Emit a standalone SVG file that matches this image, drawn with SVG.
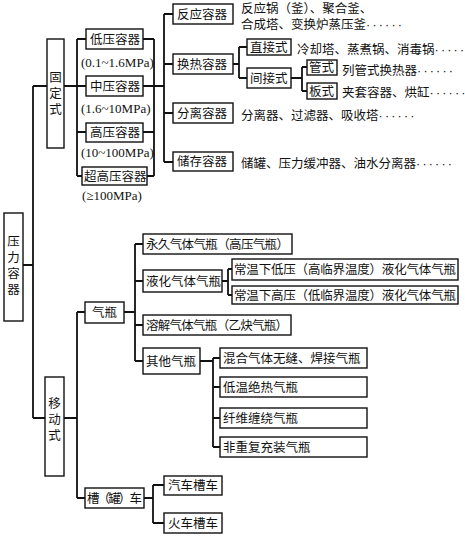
<svg xmlns="http://www.w3.org/2000/svg" width="465" height="539" viewBox="0 0 465 539">
<style>
.b{fill:#fff;stroke:#111;stroke-width:1.4}
.t{font-family:"Noto Sans CJK SC","Noto Sans CJK TC",sans-serif;font-size:12.5px;fill:#111}
.v{font-family:"Noto Sans CJK SC",sans-serif;font-size:12.5px;fill:#111;text-anchor:middle}
.m{font-family:"Liberation Serif",serif;font-size:13px;fill:#111}
.d{font-family:"Liberation Sans",sans-serif;letter-spacing:2.2px}
.c{fill:none;stroke:#111;stroke-width:1.8}
</style>
<rect width="465" height="539" fill="#fff"/>
<g id="connectors" class="c">
<path d="M23,265H33M33,86V418M33,86H47M33,418H47"/>
<path d="M64,86H77M77,39V176M77,39H86M77,86H86M77,132H86M77,176H82"/>
<path d="M143,39H154M143,86H154M143,132H154M147,176H154M154,39V176M154,86H164"/>
<path d="M164,14V162M164,14H173M164,64H173M164,113H173M164,162H173"/>
<path d="M233,64H239M239,47V78M239,47H247M239,78H247"/>
<path d="M291,78H302M302,67V91M302,67H307M302,91H307"/>
<path d="M64,418H77M77,312V498M77,312H85M77,498H85"/>
<path d="M124,312H135M135,244V361M135,244H143M135,281H143M135,325H143M135,361H143"/>
<path d="M222,281H228M228,269V295M228,269H232M228,295H232"/>
<path d="M200,361H213M213,358V447M213,358H220M213,387H220M213,418H220M213,447H220"/>
<path d="M144,498H153M153,485V523M153,485H164M153,523H164"/>
</g>
<g id="root"><rect class="b" x="4" y="213" width="19" height="108"/>
<text class="v"><tspan x="13.5" y="246">压</tspan><tspan x="13.5" y="262">力</tspan><tspan x="13.5" y="278">容</tspan><tspan x="13.5" y="294">器</tspan></text></g>
<g id="fixed"><rect class="b" x="47" y="39" width="17" height="109"/>
<text class="v"><tspan x="55.5" y="82">固</tspan><tspan x="55.5" y="98">定</tspan><tspan x="55.5" y="114">式</tspan></text></g>
<g id="low"><rect class="b" x="86" y="29" width="57" height="20"/><text class="t" x="90" y="44">低压容器</text>
<text class="m" x="81" y="67">(0.1~1.6MPa)</text></g>
<g id="mid"><rect class="b" x="86" y="76" width="57" height="20"/><text class="t" x="90" y="91">中压容器</text>
<text class="m" x="81" y="113">(1.6~10MPa)</text></g>
<g id="high"><rect class="b" x="86" y="123" width="57" height="19"/><text class="t" x="90" y="137">高压容器</text>
<text class="m" x="81" y="157">(10~100MPa)</text></g>
<g id="ultra"><rect class="b" x="82" y="167" width="65" height="18"/><text class="t" x="84" y="181">超高压容器</text>
<text class="m" x="82" y="200">(≥100MPa)</text></g>
<g id="reaction"><rect class="b" x="173" y="4" width="60" height="20"/><text class="t" x="177" y="19">反应容器</text>
<text class="t" x="241" y="13">反应锅（釜）、聚合釜、</text><text class="t" x="241" y="29">合成塔、变换炉蒸压釜<tspan class="d">······</tspan></text></g>
<g id="heat"><rect class="b" x="173" y="54" width="60" height="20"/><text class="t" x="177" y="69">换热容器</text></g>
<g id="direct"><rect class="b" x="247" y="39" width="44" height="16"/><text class="t" x="250" y="52">直接式</text>
<text class="t" x="297" y="54">冷却塔、蒸煮锅、消毒锅<tspan class="d">······</tspan></text></g>
<g id="indirect"><rect class="b" x="247" y="68" width="44" height="20"/><text class="t" x="250" y="83">间接式</text></g>
<g id="tube"><rect class="b" x="307" y="60" width="30" height="15"/><text class="t" x="309" y="72">管式</text>
<text class="t" x="342" y="75">列管式换热器<tspan class="d">······</tspan></text></g>
<g id="plate"><rect class="b" x="307" y="83" width="30" height="16"/><text class="t" x="309" y="96">板式</text>
<text class="t" x="342" y="97">夹套容器、烘缸<tspan class="d">······</tspan></text></g>
<g id="separation"><rect class="b" x="173" y="103" width="60" height="20"/><text class="t" x="177" y="118">分离容器</text>
<text class="t" x="241" y="120">分离器、过滤器、吸收塔<tspan class="d">······</tspan></text></g>
<g id="storage"><rect class="b" x="173" y="152" width="60" height="19"/><text class="t" x="177" y="166">储存容器</text>
<text class="t" x="241" y="168">储罐、压力缓冲器、油水分离器<tspan class="d">······</tspan></text></g>
<g id="mobile"><rect class="b" x="45" y="377" width="19" height="99"/>
<text class="v"><tspan x="54.5" y="408">移</tspan><tspan x="54.5" y="424">动</tspan><tspan x="54.5" y="440">式</tspan></text></g>
<g id="cylinder"><rect class="b" x="85" y="302" width="39" height="21"/><text class="t" x="92" y="317">气瓶</text></g>
<g id="permanent"><rect class="b" x="143" y="234" width="149" height="20"/><text class="t" x="146" y="249" textLength="143">永久气体气瓶（高压气瓶）</text></g>
<g id="liquefied"><rect class="b" x="143" y="270" width="79" height="22"/><text class="t" x="146" y="286">液化气体气瓶</text></g>
<g id="lowpress"><rect class="b" x="232" y="259" width="226" height="21"/><text class="t" x="234" y="274" textLength="222">常温下低压（高临界温度）液化气体气瓶</text></g>
<g id="highpress"><rect class="b" x="232" y="286" width="226" height="18"/><text class="t" x="234" y="300" textLength="222">常温下高压（低临界温度）液化气体气瓶</text></g>
<g id="dissolved"><rect class="b" x="143" y="315" width="148" height="20"/><text class="t" x="146" y="330" textLength="142">溶解气体气瓶（乙炔气瓶）</text></g>
<g id="other"><rect class="b" x="143" y="348" width="57" height="26"/><text class="t" x="146" y="366">其他气瓶</text></g>
<g id="mixed"><rect class="b" x="220" y="348" width="147" height="20"/><text class="t" x="223" y="363">混合气体无缝、焊接气瓶</text></g>
<g id="cryo"><rect class="b" x="220" y="377" width="147" height="20"/><text class="t" x="223" y="392">低温绝热气瓶</text></g>
<g id="fiber"><rect class="b" x="220" y="408" width="147" height="20"/><text class="t" x="223" y="423">纤维缠绕气瓶</text></g>
<g id="nonrefill"><rect class="b" x="220" y="437" width="147" height="20"/><text class="t" x="223" y="452">非重复充装气瓶</text></g>
<g id="tanker"><rect class="b" x="85" y="488" width="59" height="20"/><text class="t" x="87" y="503" textLength="55">槽（罐）车</text></g>
<g id="truck"><rect class="b" x="164" y="476" width="58" height="19"/><text class="t" x="168" y="490">汽车槽车</text></g>
<g id="train"><rect class="b" x="164" y="513" width="58" height="20"/><text class="t" x="168" y="528">火车槽车</text></g>
</svg>
